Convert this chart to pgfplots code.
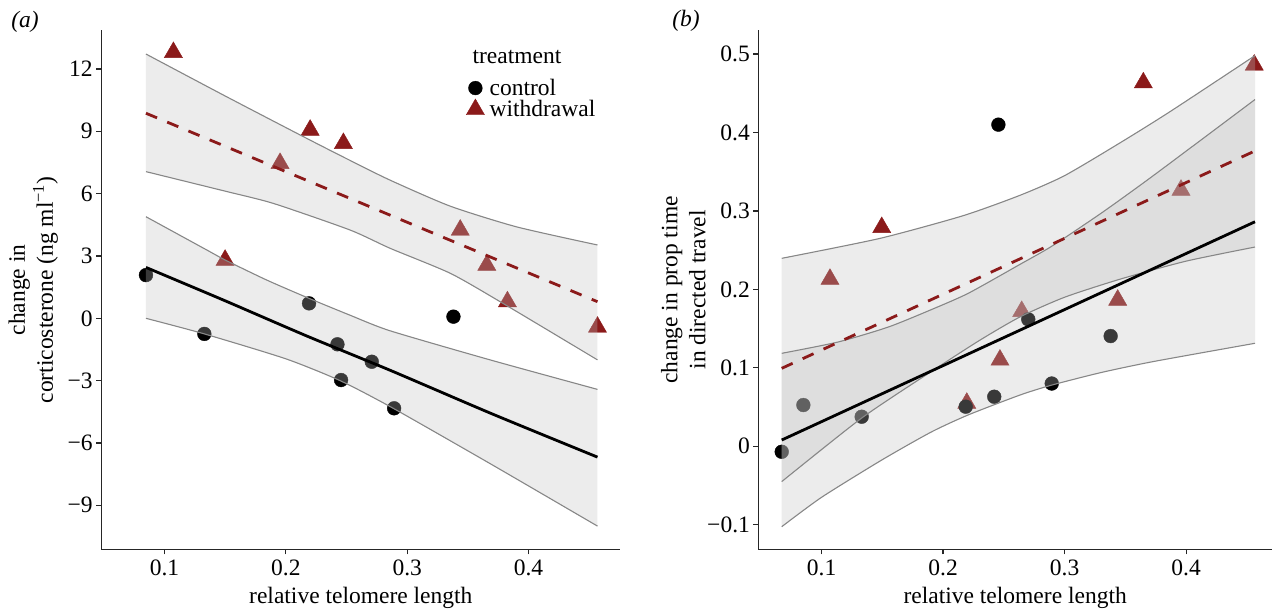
\documentclass[border=0pt]{standalone}
\usepackage{fontspec}
\setmainfont{Liberation Serif}
\usepackage{pgfplots}
\pgfplotsset{compat=1.18}

\definecolor{wred}{RGB}{139,26,26}
\definecolor{band}{RGB}{191,191,191}
\definecolor{bandline}{RGB}{135,135,135}
\newcommand{\fs}{\fontsize{23.5}{28}\selectfont}

\pgfplotsset{
  panel/.style={
    scale only axis, anchor=south west, height=518.8pt,
    axis lines=left, axis line style={-, line width=1.3pt, black!85},
    tick align=outside, major tick length=5pt,
    tick style={line width=1.2pt, black!85},
    tick label style={font=\fs},
    xticklabel style={yshift=-2pt},
    clip=false, clip marker paths=true,
    xtick={0.1,0.2,0.3,0.4}, xticklabels={0.1,0.2,0.3,0.4},
    xlabel={relative telomere length},
    every axis x label/.style={at={(axis description cs:0.5,-0.0945)}, anchor=center, font=\fs},
  },
  ctrl/.style={only marks, mark=*, mark size=6.9pt, black, forget plot},
  wdr/.style={only marks, mark=triangle*, mark size=10.5pt, wred, forget plot},
  ribbon/.style={fill=band, fill opacity=0.3, draw=none, forget plot},
  rline/.style={bandline, line width=1.1pt, smooth, tension=0.4, forget plot},
  cfit/.style={black, line width=2.8pt, smooth, tension=0.4, forget plot},
  wfit/.style={wred, line width=2.8pt, dash pattern=on 12pt off 11pt, forget plot},
}

\begin{document}
\begin{tikzpicture}

% ---------------- panel (a)
\begin{axis}[panel,
  at={(101.2pt,61.7pt)}, width=519.2pt,
  xmin=0.0478, xmax=0.4757, ymin=-11.117, ymax=13.853,
  ytick={-9,-6,-3,0,3,6,9,12}, yticklabels={−9,−6,−3,0,3,6,9,12},
  ylabel={change in\\corticosterone (ng ml\textsuperscript{−1})},
  every axis y label/.style={at={(axis description cs:-0.131,0.5)}, rotate=90, anchor=center, align=center, font=\fs},
  legend style={at={(rel axis cs:0.7007,0.9085)}, anchor=north west, draw=none, fill=none,
    inner sep=0pt, row sep=1pt, font=\fs, nodes={inner sep=1pt},
    /tikz/every odd column/.append style={column sep=3pt}},
  legend cell align=left,
  legend image code/.code={\draw[#1] plot coordinates {(0pt,0pt)}; \path (-10pt,0pt) (10pt,0pt);},
]
\addlegendimage{only marks, mark=*, mark size=6.9pt, black}
\addlegendentry{control}
\addlegendimage{only marks, mark=triangle*, mark size=10.5pt, wred}
\addlegendentry{withdrawal}

% points
\addplot[wdr] coordinates {
  (0.1073,12.8) (0.1499,2.8) (0.1952,7.46) (0.2200,9.06) (0.2474,8.42)
  (0.3437,4.25) (0.3656,2.56) (0.3826,0.80) (0.4568,-0.42)};
\addplot[ctrl] coordinates {
  (0.0847,2.08) (0.1328,-0.75) (0.2191,0.72) (0.2425,-1.25)
  (0.2455,-2.97) (0.2708,-2.09) (0.2892,-4.33) (0.3381,0.08)};

% confidence ribbons (upper, then lower reversed)
\addplot[ribbon] coordinates {
  (0.0847,12.72) (0.15,10.7) (0.2172,8.66) (0.2529,7.6) (0.2859,6.65) (0.3354,5.4) (0.3903,4.4) (0.4568,3.53)
  (0.4568,-2.0) (0.3766,0.8) (0.3354,2.17) (0.2859,3.37) (0.2529,4.25) (0.1897,5.53) (0.15,6.12) (0.0847,7.06)};
\addplot[ribbon] coordinates {
  (0.0847,4.89) (0.1348,3.29) (0.1499,2.81) (0.1843,1.84) (0.2191,0.96) (0.2529,0.15) (0.2859,-0.60) (0.3683,-2.0) (0.4568,-3.42)
  (0.4568,-10.0) (0.37,-7.05) (0.2875,-4.3) (0.2447,-3.0) (0.2,-1.95) (0.1328,-0.75) (0.0847,0.0)};
\addplot[rline] coordinates {(0.0847,12.72) (0.15,10.7) (0.2172,8.66) (0.2529,7.6) (0.2859,6.65) (0.3354,5.4) (0.3903,4.4) (0.4568,3.53)};
\addplot[rline] coordinates {(0.0847,7.06) (0.15,6.12) (0.1897,5.53) (0.2529,4.25) (0.2859,3.37) (0.3354,2.17) (0.3766,0.8) (0.4568,-2.0)};
\addplot[rline] coordinates {(0.0847,4.89) (0.1348,3.29) (0.1499,2.81) (0.1843,1.84) (0.2191,0.96) (0.2529,0.15) (0.2859,-0.60) (0.3683,-2.0) (0.4568,-3.42)};
\addplot[rline] coordinates {(0.0847,0.0) (0.1328,-0.75) (0.2,-1.95) (0.2447,-3.0) (0.2875,-4.3) (0.37,-7.05) (0.4568,-10.0)};

% fitted lines
\addplot[cfit] coordinates {(0.0847,2.45) (0.1485,0.88) (0.2172,-0.85) (0.2859,-2.5) (0.37,-4.6) (0.4568,-6.68)};
\addplot[wfit] coordinates {(0.0847,9.87) (0.4568,0.80)};

\node[font=\fs, anchor=west] at (rel axis cs:0.7084,0.949) {treatment};
\end{axis}

% ---------------- panel (b)
\begin{axis}[panel,
  at={(758.4pt,61.7pt)}, width=513.6pt,
  xmin=0.048, xmax=0.4707, ymin=-0.1313, ymax=0.530,
  ytick={-0.1,0,0.1,0.2,0.3,0.4,0.5}, yticklabels={−0.1,0,0.1,0.2,0.3,0.4,0.5},
  ylabel={change in prop time\\in directed travel},
  every axis y label/.style={at={(axis description cs:-0.146,0.5)}, rotate=90, anchor=center, align=center, font=\fs},
]
% points
\addplot[wdr] coordinates {
  (0.1069,0.213) (0.1495,0.279) (0.2195,0.055) (0.2468,0.110) (0.2647,0.172)
  (0.3437,0.1864) (0.3648,0.4634) (0.3958,0.3266) (0.4561,0.486)};
\addplot[ctrl] coordinates {
  (0.0672,-0.007) (0.085,0.0526) (0.133,0.0377) (0.2186,0.0505) (0.2421,0.0632)
  (0.2455,0.410) (0.2701,0.1618) (0.2894,0.080) (0.3379,0.1405)};

% confidence ribbons
\addplot[ribbon] coordinates {
  (0.0672,0.2396) (0.148,0.265) (0.2166,0.294) (0.2634,0.320) (0.30,0.345) (0.3469,0.388) (0.3872,0.427) (0.4567,0.498)
  (0.4567,0.254) (0.4,0.236) (0.3456,0.213) (0.3,0.19) (0.2634,0.165) (0.23,0.135) (0.19,0.095) (0.133,0.036) (0.0672,-0.045)};
\addplot[ribbon] coordinates {
  (0.0672,0.1185) (0.1137,0.133) (0.1549,0.152) (0.19,0.174) (0.2207,0.195) (0.2634,0.232) (0.2894,0.255) (0.33,0.297) (0.373,0.345) (0.4567,0.442)
  (0.4567,0.1313) (0.373,0.108) (0.33,0.094) (0.2894,0.078) (0.2634,0.0654) (0.2207,0.04) (0.19,0.018) (0.1495,-0.0175) (0.1,-0.065) (0.0672,-0.1025)};
\addplot[rline] coordinates {(0.0672,0.2396) (0.148,0.265) (0.2166,0.294) (0.2634,0.320) (0.30,0.345) (0.3469,0.388) (0.3872,0.427) (0.4567,0.498)};
\addplot[rline] coordinates {(0.0672,-0.045) (0.133,0.036) (0.19,0.095) (0.23,0.135) (0.2634,0.165) (0.3,0.19) (0.3456,0.213) (0.4,0.236) (0.4567,0.254)};
\addplot[rline] coordinates {(0.0672,0.1185) (0.1137,0.133) (0.1549,0.152) (0.19,0.174) (0.2207,0.195) (0.2634,0.232) (0.2894,0.255) (0.33,0.297) (0.373,0.345) (0.4567,0.442)};
\addplot[rline] coordinates {(0.0672,-0.1025) (0.1,-0.065) (0.1495,-0.0175) (0.19,0.018) (0.2207,0.04) (0.2634,0.0654) (0.2894,0.078) (0.33,0.094) (0.373,0.108) (0.4567,0.1313)};

% fitted lines
\addplot[cfit] coordinates {(0.0672,0.008) (0.4567,0.2862)};
\addplot[wfit] coordinates {(0.0672,0.0994) (0.4567,0.3765)};
\end{axis}

\node[font=\fs\itshape] at (25pt,589pt) {(a)};
\node[font=\fs\itshape] at (686pt,590pt) {(b)};

\pgfresetboundingbox
\path[use as bounding box] (0,0) rectangle (1279pt,611pt);
\end{tikzpicture}
\end{document}
